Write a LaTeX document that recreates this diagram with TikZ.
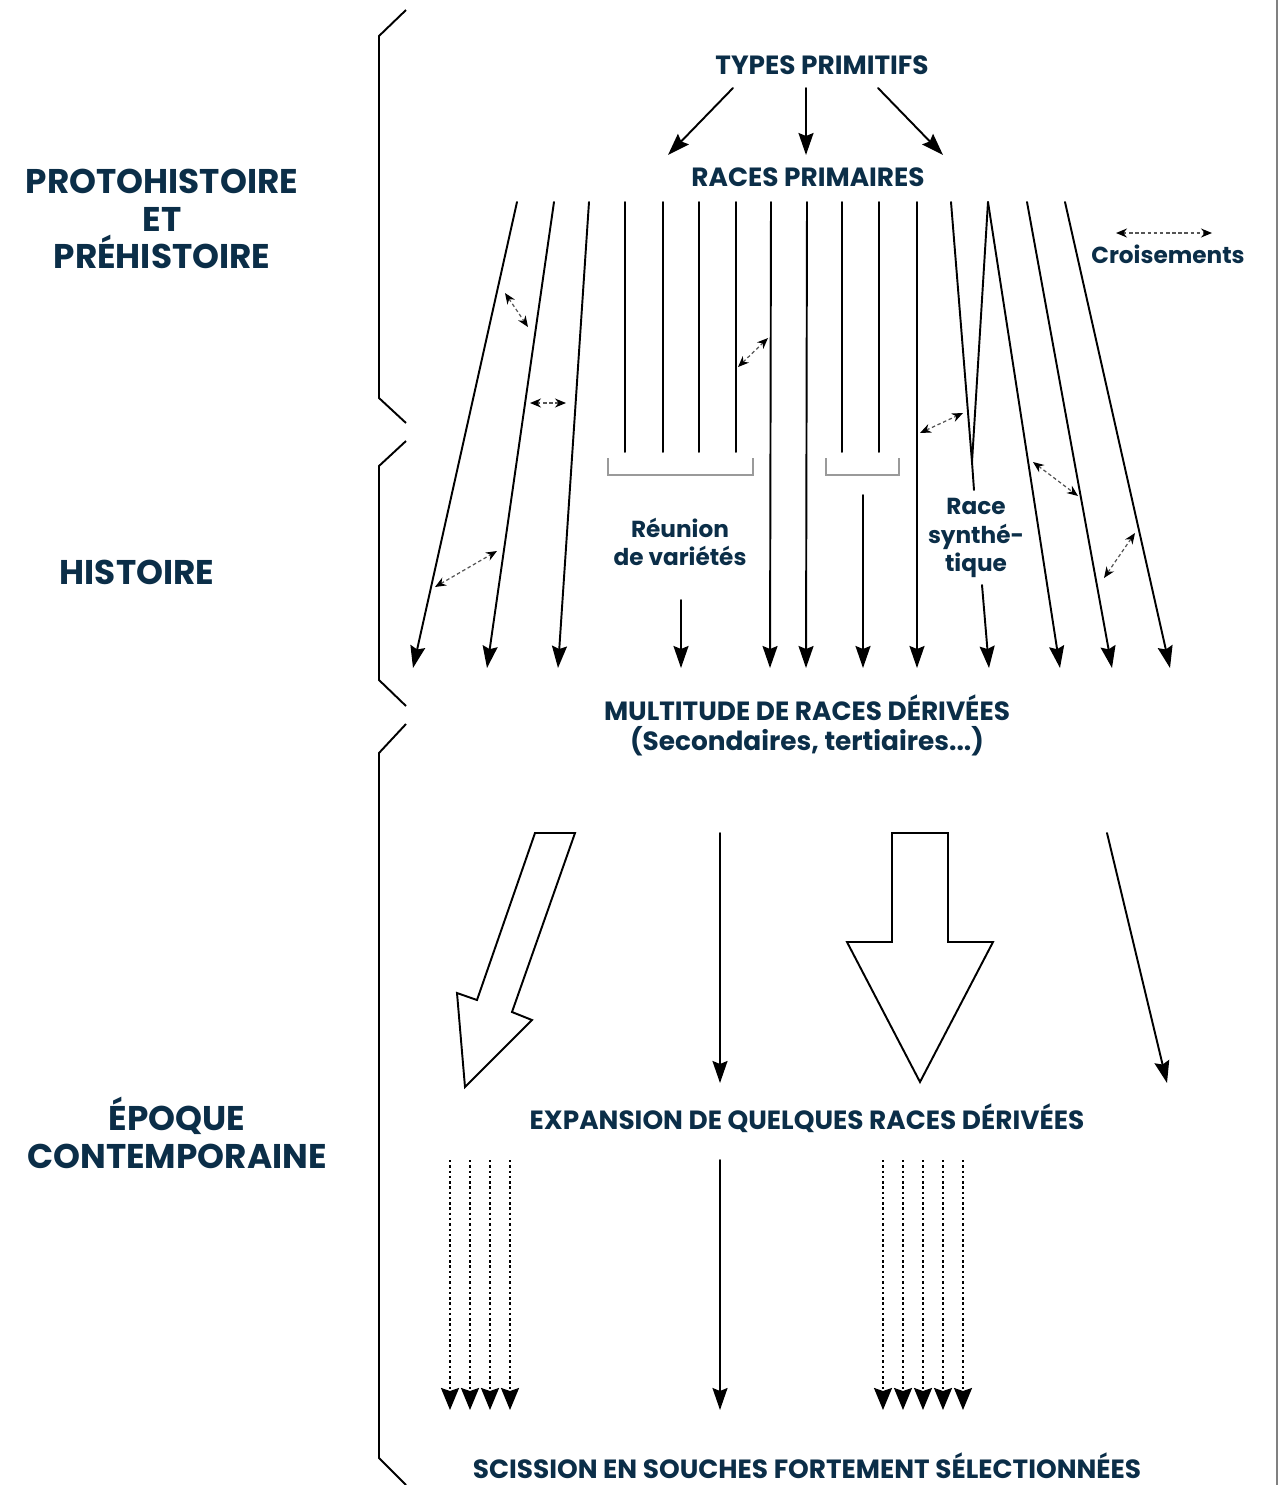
\documentclass[tikz,border=0pt]{standalone}
\usepackage{fontspec}
\setmainfont{Poppins}
\usetikzlibrary{arrows.meta}

\begin{document}
\begin{tikzpicture}[x=0.02cm, y=-0.02cm]
    \definecolor{textColour}{HTML}{0B2E48}
    \definecolor{bracketColour}{HTML}{9A9A9A}
    \definecolor{crossColour}{HTML}{555555}

    \tikzset{
        lineage/.style={line width=1.1pt, line cap=round},
        descent/.style={lineage, -{Stealth[length=0.44cm, width=0.3cm, inset=0.06cm]}},
        crossing/.style={crossColour, line width=0.7pt, dash pattern=on 2pt off 1.5pt,
            {Stealth[length=0.22cm, width=0.18cm, black]}-{Stealth[length=0.22cm, width=0.18cm, black]}},
        strain/.style={line width=1.2pt, dash pattern=on 1.4pt off 1.6pt,
            -{Stealth[length=0.44cm, width=0.36cm, inset=0.06cm]}},
        period/.style={textColour, font=\bfseries\fontsize{19.5}{21.5}\selectfont, align=center},
        caption/.style={textColour, font=\bfseries\fontsize{15}{17}\selectfont, align=center},
        note/.style={textColour, font=\bfseries\fontsize{13.2}{16.2}\selectfont, align=center}
    }

    \useasboundingbox (0,0) rectangle (1278,1485);
    \draw[gray, line width=0.6pt] (1277,0) -- (1277,1485);

    % Periods and braces
    \node[period] (proto) at (162,219) {PROTOHISTOIRE\\ET\\PRÉHISTOIRE};
    \node[period] (histoire) at (137,572) {HISTOIRE};
    \node[period] (epoque) at (177,1133) {ÉPOQUE\\CONTEMPORAINE};

    \draw[line width=1.1pt] (406,10) -- (379,36) -- (379,398) -- (406,423);
    \draw[line width=1.1pt] (406,441) -- (379,466) -- (379,680) -- (406,706);
    \draw[line width=1.1pt] (406,724) -- (379,753) -- (379,1458) -- (406,1485);

    % Primitive types to primary races
    \node[caption] (types) at (822,65) {TYPES PRIMITIFS};
    \node[caption] (primaires) at (808,177) {RACES PRIMAIRES};
    \foreach \a/\b [count=\i] in {733/668, 806/806, 878/943} {
        \coordinate (s\i) at (\a,88);
        \coordinate (e\i) at (\b,155);
        \draw[descent] (s\i) -- (e\i);
    }

    % Long lines of descent
    \foreach \t/\b [count=\i] in {517/413, 554/487, 589/558, 771/770, 807/806, 917/917, 988/1060, 1027/1112, 1065/1170} {
        \coordinate (top\i) at (\t,202);
        \coordinate (bot\i) at (\b,668);
        \draw[descent] (top\i) -- (bot\i);
    }

    % Varieties gathered together
    \foreach \x in {625,663,699,736,842,879}
        \draw[lineage] (\x,202) -- (\x,452);
    \draw[bracketColour, line width=1pt] (608,458) -- (608,475) -- (753,475) -- (753,458);
    \draw[bracketColour, line width=1pt] (826,458) -- (826,475) -- (899,475) -- (899,458);
    \node[note] (reunion) at (680,542) {Réunion\\de variétés};
    \coordinate (r1) at (681,600);
    \coordinate (r2) at (681,668);
    \draw[descent] (r1) -- (r2);
    \coordinate (g1) at (863,495);
    \coordinate (g2) at (863,668);
    \draw[descent] (g1) -- (g2);

    % Synthetic race
    \coordinate (v1) at (951,202);
    \coordinate (v2) at (972,462);
    \coordinate (v3) at (988,202);
    \draw[lineage, line join=miter] (v1) -- (v2) -- (v3);
    \draw[lineage] (v2) -- (974,490);
    \node[note] (synth) at (976,538) {Race\\synthé-\\tique};
    \coordinate (y1) at (982,585);
    \coordinate (y2) at (989,668);
    \draw[descent] (y1) -- (y2);

    % Crossings
    \foreach \a/\b/\c/\d in {505/293/528/327, 530/403/566/403, 738/367/768/338, 920/433/963/413,
                            1033/462/1078/496, 435/587/497/551, 1104/578/1135/533, 1116/233/1212/233}
        \draw[crossing] (\a,\b) -- (\c,\d);
    \node[note] (croisements) at (1168,254) {Croisements};

    \node[caption] (multitude) at (807,725) {MULTITUDE DE RACES DÉRIVÉES\\(Secondaires, tertiaires...)};

    % Expansion
    \draw[line width=1.1pt, line join=miter] (535,833) -- (575,833) -- (512,1012) -- (532,1020)
        -- (465,1087) -- (457,993) -- (477,1000) -- cycle;
    \draw[line width=1.1pt, line join=miter] (892,833) -- (948,833) -- (948,942) -- (993,942)
        -- (920,1082) -- (847,942) -- (892,942) -- cycle;
    \coordinate (x1) at (720,833);
    \coordinate (x2) at (720,1083);
    \draw[descent] (x1) -- (x2);
    \coordinate (z1) at (1107,833);
    \coordinate (z2) at (1167,1083);
    \draw[descent] (z1) -- (z2);
    \node[caption] (expansion) at (807,1118) {EXPANSION DE QUELQUES RACES DÉRIVÉES};

    % Split into strains
    \foreach \x in {450,470,490,510,883,903,923,943,963}
        \draw[strain] (\x,1160) -- (\x,1410);
    \coordinate (m1) at (720,1160);
    \coordinate (m2) at (720,1410);
    \draw[descent] (m1) -- (m2);
    \node[caption, inner sep=0pt] (scission) at (807,1466) {SCISSION EN SOUCHES FORTEMENT SÉLECTIONNÉES};

\end{tikzpicture}
\end{document}
